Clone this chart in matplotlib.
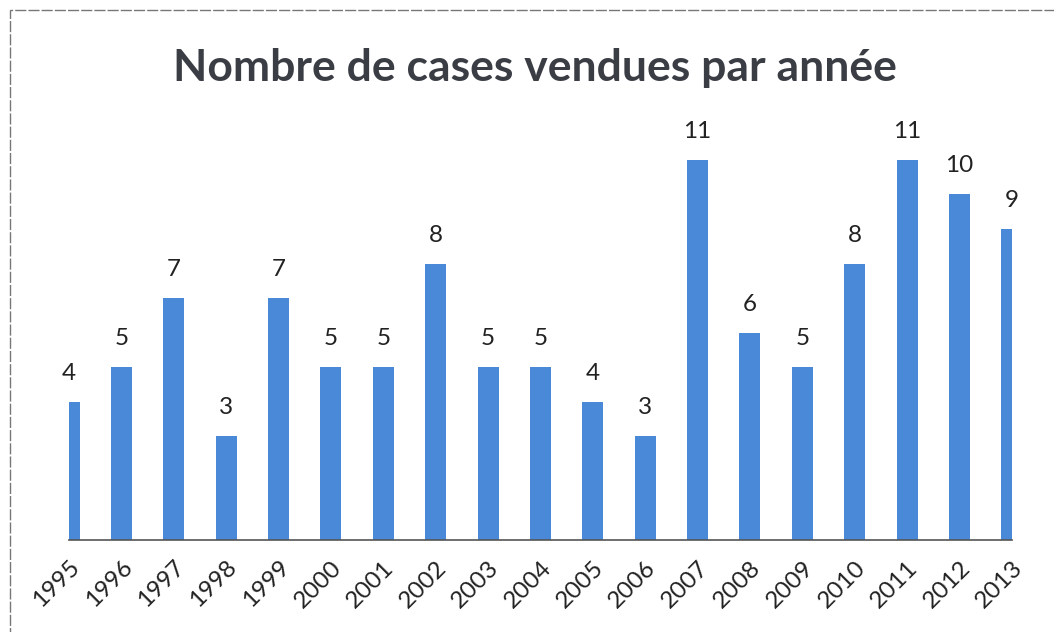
import matplotlib.pyplot as plt
from matplotlib.patches import Rectangle

years = [str(y) for y in range(1995, 2014)]
cases = [4, 5, 7, 3, 7, 5, 5, 8, 5, 5, 4, 3, 11, 6, 5, 8, 11, 10, 9]

plt.rcParams['font.family'] = ['Lato', 'DejaVu Sans']

fig = plt.figure(figsize=(10.54, 6.32), dpi=100)
ax = fig.add_axes([0.0655, 0.1456, 0.8945, 0.656])

x = list(range(len(years)))
ax.bar(x, cases, width=0.4, color='#4a88d8')
for xi, v in zip(x, cases):
    ax.annotate(str(v), (xi, v), xytext=(0, 13), textcoords='offset points',
                ha='center', va='bottom', fontsize=17.5, color='#222222',
                annotation_clip=False)

# Excel "on tick marks": first and last bars sit on the axis edges
ax.set_xlim(0, len(years) - 1)
ax.set_ylim(0, 12)
ax.set_xticks(x)
ax.set_xticklabels(years, rotation=45, ha='right', rotation_mode='anchor',
                   fontsize=17.5, color='#222222')
ax.tick_params(axis='x', length=0, pad=12)
ax.set_yticks([])
for s in ['top', 'left', 'right']:
    ax.spines[s].set_visible(False)
ax.spines['bottom'].set_color('#555555')
ax.spines['bottom'].set_linewidth(1.2)

fig.text(0.508, 0.893, 'Nombre de cases vendues par année', ha='center',
         va='center', fontsize=32, fontweight='bold', color='#3a3d44')

fig.patches.append(Rectangle((10 / 1054, -0.1), 1.2, 1 - 10 / 632 + 0.1,
                             transform=fig.transFigure, fill=False,
                             edgecolor='#777777', linewidth=1.0,
                             linestyle=(0, (8, 1.5))))

fig.savefig('out.png', dpi=100)
